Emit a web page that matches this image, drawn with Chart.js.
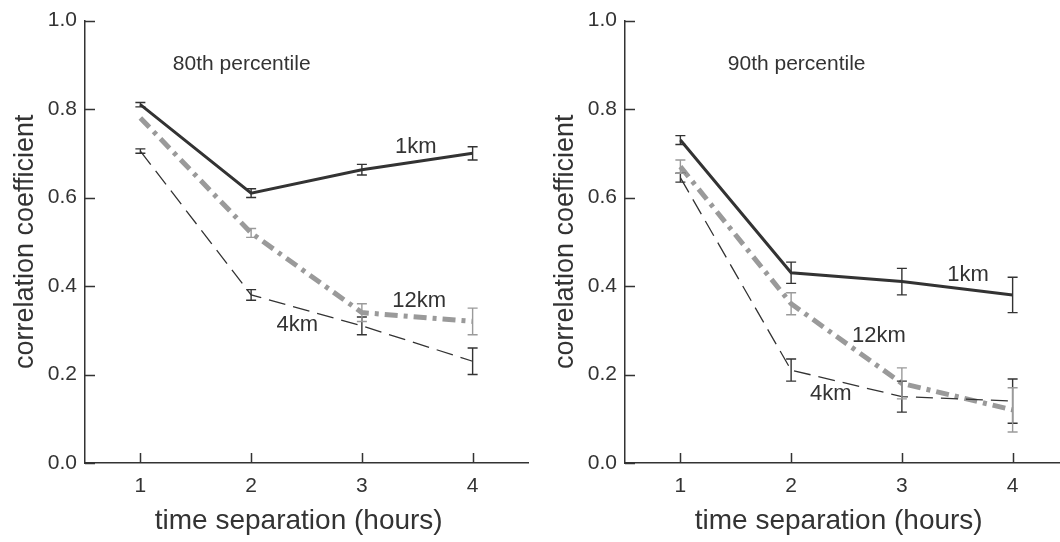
<!DOCTYPE html>
<html>
<head>
<meta charset="utf-8">
<script src="https://cdn.jsdelivr.net/npm/chart.js@4.4.1/dist/chart.umd.min.js"></script>
<style>
    html, body { margin: 0; padding: 0; background: #fff; width: 1060px; height: 542px; overflow: hidden; }
    .panel { position: absolute; top: 0; width: 540px; height: 542px; }
</style>
</head>
<body>
<div class="panel" style="left:0"><canvas id="chart80" width="540" height="542"></canvas></div>
<div class="panel" style="left:540px"><canvas id="chart90" width="540" height="542"></canvas></div>
<script>
// x categories (hours) and axis ticks
const hours = [1, 2, 3, 4];
const yTicks = [0, 0.2, 0.4, 0.6, 0.8, 1.0];

// 80th percentile panel
const p80_1km = [0.81, 0.61, 0.663, 0.70];
const p80_1km_err = [0.005, 0.01, 0.012, 0.015];
const p80_12km = [0.78, 0.52, 0.34, 0.32];
const p80_12km_err = [0, 0.01, 0.02, 0.03];
const p80_4km = [0.705, 0.38, 0.31, 0.23];
const p80_4km_err = [0.005, 0.012, 0.02, 0.03];

// 90th percentile panel
const p90_1km = [0.73, 0.43, 0.41, 0.38];
const p90_1km_err = [0.01, 0.024, 0.03, 0.04];
const p90_12km = [0.67, 0.36, 0.18, 0.12];
const p90_12km_err = [0.015, 0.025, 0.035, 0.05];
const p90_4km = [0.645, 0.21, 0.15, 0.14];
const p90_4km_err = [0.01, 0.025, 0.035, 0.05];

const DARK = '#333333';
const GREY = '#9a9a9a';
const FONT = '"Liberation Sans", Arial, Helvetica, sans-serif';

function toPoints(values) {
    return hours.map((h, i) => ({ x: h, y: values[i] }));
}

function makeDatasets(v1, e1, v12, e12, v4, e4) {
    return [
        { label: '4km', data: toPoints(v4), errors: e4, borderColor: DARK, borderWidth: 1.3, borderDash: [17, 8] },
        { label: '12km', data: toPoints(v12), errors: e12, borderColor: GREY, borderWidth: 5, borderDash: [13, 6, 4, 6] },
        { label: '1km', data: toPoints(v1), errors: e1, borderColor: DARK, borderWidth: 3 }
    ].map(d => Object.assign({ pointRadius: 0, tension: 0, fill: false, errorColor: d.borderColor === GREY ? GREY : DARK }, d));
}

// error bars, inward tick marks and in-plot text labels
const decorPlugin = {
    id: 'decor',
    afterDatasetsDraw(chart) {
        const ctx = chart.ctx;
        const xs = chart.scales.x, ys = chart.scales.y;
        ctx.save();
        chart.data.datasets.forEach(ds => {
            ctx.strokeStyle = ds.errorColor;
            ctx.lineWidth = 1.4;
            ds.data.forEach((p, i) => {
                const e = ds.errors[i];
                if (!e) return;
                const px = xs.getPixelForValue(p.x);
                const top = ys.getPixelForValue(p.y + e);
                const bot = ys.getPixelForValue(p.y - e);
                ctx.beginPath();
                ctx.moveTo(px, top); ctx.lineTo(px, bot);
                ctx.moveTo(px - 5, top); ctx.lineTo(px + 5, top);
                ctx.moveTo(px - 5, bot); ctx.lineTo(px + 5, bot);
                ctx.stroke();
            });
        });
        ctx.restore();
    },
    afterDraw(chart) {
        const ctx = chart.ctx;
        const xs = chart.scales.x, ys = chart.scales.y;
        const area = chart.chartArea;
        ctx.save();
        ctx.strokeStyle = DARK;
        ctx.lineWidth = 1.5;
        ctx.beginPath();
        hours.forEach(h => {
            const px = Math.round(xs.getPixelForValue(h)) + 0.5;
            ctx.moveTo(px, area.bottom); ctx.lineTo(px, area.bottom - 10);
        });
        yTicks.forEach(v => {
            const py = Math.round(ys.getPixelForValue(v)) + 0.5;
            ctx.moveTo(area.left, py); ctx.lineTo(area.left + 10, py);
        });
        ctx.stroke();

        ctx.fillStyle = DARK;
        ctx.textAlign = 'left';
        ctx.textBaseline = 'middle';
        (chart.options.plugins.decor.labels || []).forEach(l => {
            ctx.font = l.size + 'px ' + FONT;
            ctx.fillText(l.text, xs.getPixelForValue(l.x), ys.getPixelForValue(l.y));
        });
        ctx.restore();
    }
};

function createPanel(canvasId, datasets, labels) {
    const ctx = document.getElementById(canvasId);
    return new Chart(ctx, {
        type: 'line',
        data: { datasets: datasets },
        plugins: [decorPlugin],
        options: {
            responsive: false,
            animation: false,
            layout: { padding: { top: 18, right: 12, left: 0, bottom: 0 } },
            plugins: {
                legend: { display: false },
                tooltip: { enabled: false },
                decor: { labels: labels }
            },
            scales: {
                x: {
                    type: 'linear',
                    min: 0.5,
                    max: 4.5,
                    afterBuildTicks: s => { s.ticks = hours.map(v => ({ value: v })); },
                    afterFit: s => { s.height = 79; },
                    grid: { display: false, drawTicks: false },
                    border: { display: true, color: DARK, width: 1.5 },
                    ticks: { padding: 11, color: DARK, font: { family: FONT, size: 21 } },
                    title: {
                        display: true,
                        text: 'time separation (hours)  ',
                        color: DARK,
                        font: { family: FONT, size: 28 },
                        padding: { top: 0, bottom: 4 }
                    }
                },
                y: {
                    min: 0,
                    max: 1,
                    afterBuildTicks: s => { s.ticks = yTicks.map(v => ({ value: v })); },
                    afterFit: s => { s.width = 85; },
                    grid: { display: false, drawTicks: false },
                    border: { display: true, color: DARK, width: 1.5 },
                    ticks: { padding: 8, color: DARK, font: { family: FONT, size: 21 }, callback: v => v.toFixed(1) },
                    title: {
                        display: true,
                        text: 'correlation coefficient',
                        color: DARK,
                        font: { family: FONT, size: 27 },
                        padding: { top: 9, bottom: 0 }
                    }
                }
            }
        }
    });
}

document.addEventListener('DOMContentLoaded', function () {
    createPanel('chart80',
        makeDatasets(p80_1km, p80_1km_err, p80_12km, p80_12km_err, p80_4km, p80_4km_err),
        [
            { text: '80th percentile', x: 1.293, y: 0.901, size: 21 },
            { text: '1km', x: 3.30, y: 0.715, size: 22 },
            { text: '12km', x: 3.275, y: 0.366, size: 22 },
            { text: '4km', x: 2.23, y: 0.312, size: 22 }
        ]);
    createPanel('chart90',
        makeDatasets(p90_1km, p90_1km_err, p90_12km, p90_12km_err, p90_4km, p90_4km_err),
        [
            { text: '90th percentile', x: 1.428, y: 0.901, size: 21 },
            { text: '1km', x: 3.41, y: 0.425, size: 22 },
            { text: '12km', x: 2.55, y: 0.288, size: 22 },
            { text: '4km', x: 2.17, y: 0.157, size: 22 }
        ]);
});
</script>
</body>
</html>
